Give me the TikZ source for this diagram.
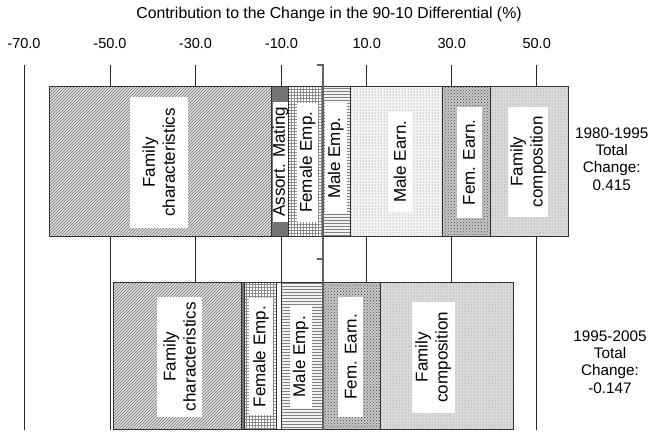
\documentclass[tikz,border=0pt]{standalone}
\usepackage{fontspec}
\setmainfont{Liberation Sans}
\usetikzlibrary{patterns}
\begin{document}
\begin{tikzpicture}[x=1pt,y=-1pt,
  gridln/.style={black!85, line width=0.9pt},
  segb/.style={draw=black!80, line width=0.8pt},
  stFC/.style={preaction={fill=black!12}, pattern=north east lines, pattern color=black!55},
  stAM/.style={fill=black!55},
  stFE/.style={preaction={fill=white}, pattern=grid, pattern color=black!45},
  stME/.style={preaction={fill=black!5}, pattern=horizontal lines, pattern color=black!50},
  stMEarn/.style={preaction={fill=black!4}, pattern=dots, pattern color=black!60},
  stFEarn/.style={preaction={fill=black!22}, pattern=crosshatch dots, pattern color=black!70},
  stFComp/.style={preaction={fill=black!14}, pattern=dots, pattern color=black!50},
  stWhite/.style={fill=white},
  lab/.style={fill=white, inner sep=0pt, rotate=90, align=center, font=\fontsize{17}{20}\selectfont},
  ticklab/.style={font=\fontsize{14.5}{17}\selectfont, inner sep=0pt},
  sidelab/.style={font=\fontsize{15.3}{17.3}\selectfont, align=center, inner sep=0pt},
  zeroln/.style={black!62, line width=2pt}
]
\useasboundingbox (0,0) rectangle (650,431);

% title
\node[font=\fontsize{15.8}{18}\selectfont, inner sep=0pt] (title) at (329,14) {Contribution to the Change in the 90-10 Differential (\%)};

% grid lines and tick labels
\foreach \xx/\lbl [count=\i] in {24/-70.0, 110/-50.0, 195.5/-30.0, 281.5/-10.0, 366.7/10.0, 451.7/30.0, 536.7/50.0}{
  \draw[gridln] (\xx,65) -- (\xx,429.5);
  \node[ticklab] (tick\i) at (\xx,43.3) {\lbl};
}

% top row segments
\draw[segb,stFC]    (49.3,86.7) rectangle (271.7,236);
\draw[segb,stAM]    (271.7,86.7) rectangle (288.3,236);
\draw[segb,stFE]    (288.3,86.7) rectangle (322.5,236);
\draw[segb,stME]    (322.5,86.7) rectangle (350,236);
\draw[segb,stMEarn] (350,86.7) rectangle (442.3,236);
\draw[segb,stFEarn] (442.3,86.7) rectangle (490.7,236);
\draw[segb,stFComp] (490.7,86.7) rectangle (568.3,236);

% bottom row segments
\draw[segb,stFC]    (113.3,282.5) rectangle (241,429.5);
\draw[segb,stAM]    (241,282.5) rectangle (244.5,429.5);
\draw[segb,stFE]    (244.5,282.5) rectangle (276.7,429.5);
\draw[segb,stWhite] (276.7,282.5) rectangle (281.3,429.5);
\draw[segb,stME]    (281.3,282.5) rectangle (322.5,429.5);
\draw[segb,stFEarn] (322.5,282.5) rectangle (380.7,429.5);
\draw[segb,stFComp] (380.7,282.5) rectangle (513.3,429.5);

% zero line
\coordinate (z0) at (316.7,65);
\coordinate (z1) at (322.5,65);
\coordinate (z2) at (322.5,429.5);
\coordinate (zt0) at (316.5,259.3);
\coordinate (zt1) at (322.5,259.3);
\draw[zeroln] (z0) -- (z1) -- (z2);
\draw[zeroln] (zt0) -- (zt1);

% top row labels
\node[lab, minimum width=130.4pt, minimum height=57.7pt] (tFC) at (158.8,162.5) {Family\\characteristics};
\node[lab, minimum width=120pt, minimum height=14.4pt] (tAM) at (280.5,161.7) {Assort. Mating};
\node[lab, minimum width=118.7pt, minimum height=21.6pt] (tFE) at (307.5,162.3) {Female Emp.};
\node[lab, minimum width=110pt, minimum height=21.7pt] (tME) at (335.8,158.3) {Male Emp.};
\node[lab, minimum width=100pt, minimum height=23.7pt] (tMEarn) at (399.8,161.7) {Male Earn.};
\node[lab, minimum width=111.6pt, minimum height=25pt] (tFEarn) at (469.2,162.5) {Fem. Earn.};
\node[lab, minimum width=110pt, minimum height=40pt] (tFComp) at (528.3,161.7) {Family\\composition};

% bottom row labels
\node[lab, minimum width=120pt, minimum height=44.4pt] (bFC) at (179.5,356.7) {Family\\characteristics};
\node[lab, minimum width=116.7pt, minimum height=23.4pt] (bFE) at (261,356.7) {Female Emp.};
\node[lab, minimum width=103.3pt, minimum height=21.7pt] (bME) at (300.8,356.7) {Male Emp.};
\node[lab, minimum width=120pt, minimum height=25pt] (bFEarn) at (350.8,356.7) {Fem. Earn.};
\node[lab, minimum width=111pt, minimum height=43.3pt] (bFComp) at (433.3,357.2) {Family\\composition};

% side labels
\node[sidelab] (sTop) at (611.7,159) {1980-1995\\Total\\Change:\\0.415};
\node[sidelab] (sBot) at (610,362) {1995-2005\\Total\\Change:\\-0.147};
\end{tikzpicture}
\end{document}
